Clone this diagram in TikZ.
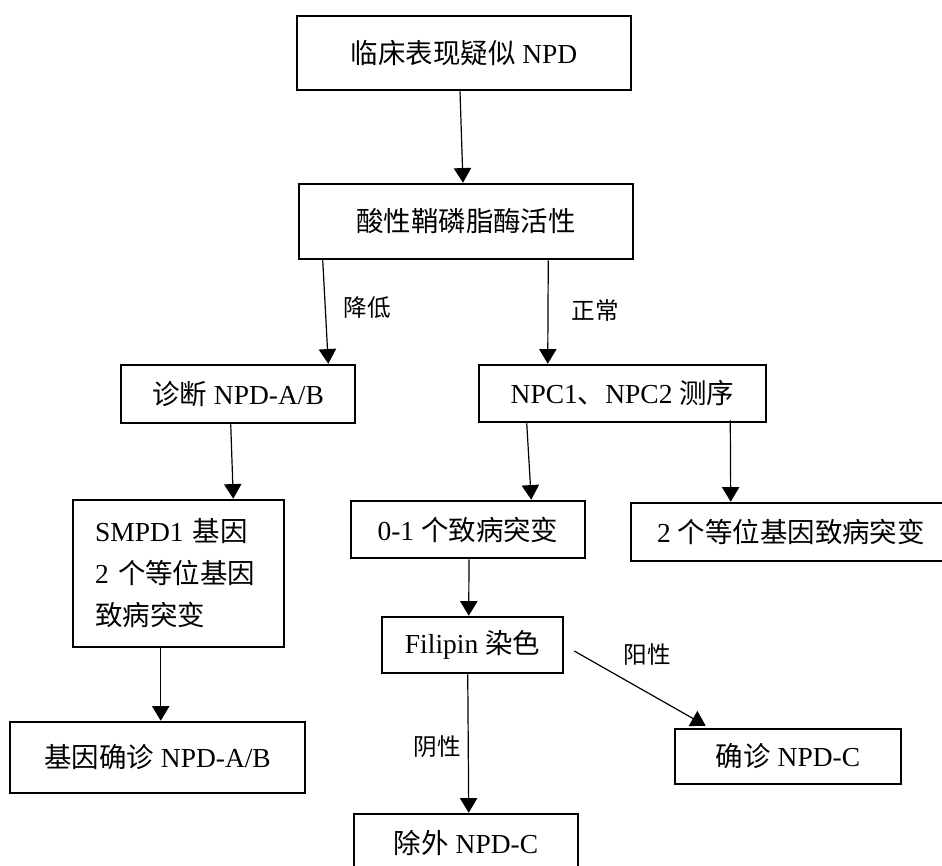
\documentclass[tikz,border=0pt]{standalone}
\usepackage{fontspec}
\setmainfont{Liberation Serif}
\newfontfamily\zhfont{Noto Sans CJK SC}
\newcommand{\zh}[1]{{\zhfont #1}}
\usetikzlibrary{arrows.meta,calc}

\begin{document}
\begin{tikzpicture}[
  x=0.75pt, y=-0.75pt,
  font=\fontsize{20.6}{31.5}\selectfont,
  bx/.style={draw, line width=1.9pt, inner sep=0pt, align=center},
  lbl/.style={inner sep=0pt, font=\fontsize{17.7}{20}\selectfont},
  arr/.style={line width=0.9pt, -{Triangle[length=11pt, width=13pt]}}
]
\useasboundingbox (0,0) rectangle (942,866);

\node[bx, minimum width=250.5pt, minimum height=55.5pt]  (clin)    at (464, 53)    {\zh{临床表现疑似} NPD};
\node[bx, minimum width=250.5pt, minimum height=56.25pt] (asm)     at (466, 221.5) {\zh{酸性鞘磷脂酶活性}};
\node[bx, minimum width=175.5pt, minimum height=43.5pt]  (abdx)    at (238, 394)   {\zh{诊断} NPD-A/B};
\node[bx, minimum width=215.25pt, minimum height=42.75pt] (npcseq) at (622.5, 393.5) {NPC1\zh{、}NPC2 \zh{测序}};
\node[bx, minimum width=158.25pt, minimum height=110.25pt, text width=125pt, align=left]
                                                         (smpd)    at (178.5, 573.5)
  {SMPD1 \zh{基因}\\ 2 \zh{个等位基因}\\ \zh{致病突变}};
\node[bx, minimum width=175.5pt, minimum height=42.75pt] (onemut)  at (468, 529.5) {0-1 \zh{个致病突变}};
\node[bx, minimum width=240pt, minimum height=43.5pt]    (twomut)  at (791, 532)   {2 \zh{个等位基因致病突变}};
\node[bx, minimum width=135.75pt, minimum height=42pt]   (filipin) at (472.5, 645) {Filipin \zh{染色}};
\node[bx, minimum width=221.25pt, minimum height=53.25pt] (genab)  at (157.5, 757.5) {\zh{基因确诊} NPD-A/B};
\node[bx, minimum width=169.5pt, minimum height=41.25pt] (npcc)    at (788, 756.5) {\zh{确诊} NPD-C};
\node[bx, minimum width=168pt, minimum height=43.5pt]    (excl)    at (466, 843)   {\zh{除外} NPD-C};

% branch labels
\node[lbl] (low)  at (367, 308) {\zh{降低}};
\node[lbl] (norm) at (595, 311) {\zh{正常}};
\node[lbl] (pos)  at (647, 655) {\zh{阳性}};
\node[lbl] (neg)  at (437, 747) {\zh{阴性}};

\draw[arr] ($(clin.south)+(-4,0)$)       -- ($(asm.north)+(-3,0)$);
\draw[arr] ($(asm.south west)+(25,0)$)   -- ($(abdx.north east)+(-28,0)$);
\draw[arr] ($(asm.south east)+(-86,0)$)  -- ($(npcseq.north west)+(70,0)$);
\draw[arr] ($(abdx.south west)+(111,0)$) -- ($(smpd.north east)+(-52,0)$);
\draw[arr] ($(smpd.south west)+(89,0)$)  -- ($(genab.north west)+(152,0)$);
\draw[arr] ($(npcseq.south west)+(49,0)$) -- ($(onemut.north east)+(-55,0)$);
\draw[arr] ($(npcseq.south east)+(-37,-3)$) -- ($(twomut.north west)+(101,0)$);
\draw[arr] ($(onemut.south)+(1,0)$)      -- ($(filipin.north west)+(88,0)$);
\draw[arr] ($(filipin.south west)+(87,0)$) -- ($(excl.north west)+(116,0)$);
\draw[arr] ($(filipin.east)+(10,6)$)     -- ($(npcc.north west)+(32,-2)$);
\end{tikzpicture}
\end{document}
